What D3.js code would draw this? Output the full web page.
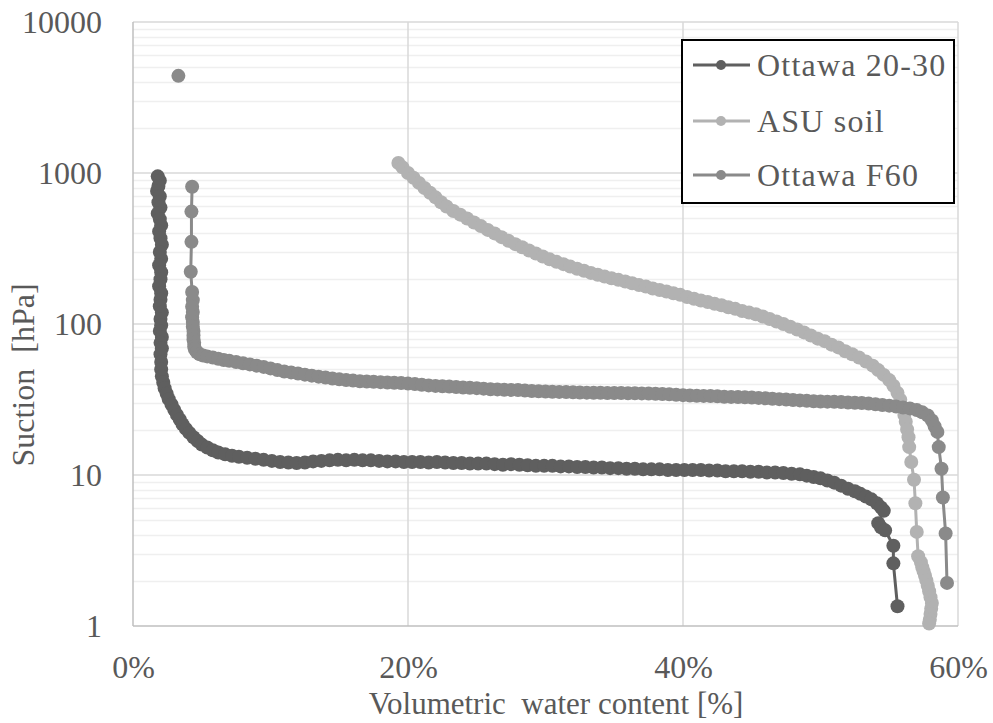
<!DOCTYPE html>
<html>
<head>
<meta charset="utf-8">
<script src="https://cdn.jsdelivr.net/npm/d3@7"></script>
<style>
  html, body { margin: 0; padding: 0; background: #ffffff; }
  svg { display: block; }
</style>
</head>
<body>
<svg id="chart" width="993" height="723"></svg>
<script>
// Water retention curves: volumetric water content [%] vs suction [hPa]
const seriesNames = ["Ottawa 20-30", "ASU soil", "Ottawa F60"];
const seriesColors = ["#5f5f5f", "#b2b2b2", "#8a8a8a"];

const ottawa2030 = [
  [1.8,950],[1.95,890],[1.85,820],[1.75,760],[1.95,700],[1.85,640],[2.0,590],[1.8,540],
  [1.95,495],[2.05,450],[1.9,410],[2.0,370],[2.1,335],[1.95,300],[2.05,270],[1.9,245],
  [2.05,220],[2.0,198],[1.9,178],[2.05,160],[2.0,145],[1.95,131],[2.1,119],[2.0,108],
  [2.05,98],[1.95,90],[2.1,82],[2.0,75],[2.1,69],[2.0,63],[2.05,56],[2.05,50],[2.1,45],
  [2.2,41],[2.3,37.5],[2.45,34.5],[2.6,31.8],[2.8,29.3],[3.0,27],[3.2,25],[3.4,23.3],
  [3.6,21.7],[3.85,20.2],[4.1,19],[4.4,17.8],[4.7,16.8],[5.0,15.9],[5.4,15.2],[5.8,14.6],
  [6.2,14.1],[6.7,13.7],[7.2,13.4],[7.7,13.2],[8.3,13.0],[8.9,12.8],[9.5,12.6],[10.1,12.4],
  [10.7,12.2],[11.3,12.1],[11.9,12.0],[12.5,12.1],[13.1,12.3],[13.7,12.4],[14.3,12.5],
  [14.9,12.6],[15.5,12.5],[16.1,12.6],[16.7,12.5],[17.3,12.5],[17.9,12.4],[18.5,12.3],
  [19.1,12.3],[19.7,12.2],[20.3,12.2],[20.9,12.2],[21.5,12.1],[22.1,12.2],[22.7,12.1],
  [23.3,12.0],[23.9,12.0],[24.5,11.9],[25.1,11.9],[25.7,11.9],[26.3,11.8],[26.9,11.7],
  [27.5,11.8],[28.1,11.7],[28.7,11.6],[29.3,11.5],[29.9,11.5],[30.5,11.5],[31.1,11.4],
  [31.7,11.4],[32.3,11.3],[32.9,11.3],[33.5,11.2],[34.1,11.2],[34.7,11.1],[35.3,11.1],
  [35.9,11.0],[36.5,11.0],[37.1,10.9],[37.7,10.9],[38.3,10.9],[38.9,10.8],[39.5,10.8],
  [40.1,10.8],[40.7,10.8],[41.3,10.8],[41.9,10.7],[42.5,10.7],[43.1,10.6],[43.7,10.6],
  [44.3,10.6],[44.9,10.5],[45.5,10.5],[46.1,10.4],[46.7,10.4],[47.3,10.3],[47.9,10.2],
  [48.5,10.1],[49.0,9.9],[49.5,9.7],[50.0,9.5],[50.5,9.2],[51.0,8.9],[51.5,8.5],
  [52.0,8.1],[52.5,7.8],[52.9,7.5],[53.3,7.2],[53.7,6.9],[54.1,6.5],[54.4,6.1],
  [54.6,5.8],[54.2,4.8],[54.4,4.5],[54.7,4.3],[55.3,3.4],[55.3,2.6],[55.6,1.35]
];

const asuSoil = [
  [19.3,1165],[19.6,1090],[20.0,1000],[20.4,930],[20.8,860],[21.2,795],[21.6,740],
  [22.0,690],[22.4,640],[22.8,600],[23.3,560],[23.8,530],[24.3,500],[24.8,470],
  [25.3,445],[25.8,420],[26.3,398],[26.8,376],[27.3,356],[27.8,338],[28.3,322],
  [28.8,307],[29.3,293],[29.8,280],[30.3,268],[30.8,258],[31.3,249],[31.8,240],
  [32.3,232],[32.8,225],[33.3,218],[33.8,212],[34.3,206],[34.8,201],[35.3,196],
  [35.8,191],[36.3,186],[36.8,181],[37.3,177],[37.8,172],[38.3,168],[38.8,164],
  [39.3,160],[39.8,156],[40.3,151],[40.8,147],[41.3,143],[41.8,140],[42.3,136],
  [42.8,133],[43.3,129],[43.8,126],[44.3,122],[44.8,119],[45.3,116],[45.8,112],
  [46.3,108],[46.8,104],[47.3,100],[47.8,96],[48.3,92],[48.8,88],[49.3,84],[49.8,80],
  [50.3,77],[50.8,73],[51.3,70],[51.8,66],[52.3,63],[52.8,60],[53.3,56.5],[53.8,53],
  [54.2,49.5],[54.6,46],[55.0,42.5],[55.3,39],[55.6,35],[55.8,31.5],[56.0,28],
  [56.1,25],[56.2,22.5],[56.3,20],[56.4,17.8],[56.45,15.3],[56.6,12.2],[56.8,9.3],
  [56.9,6.5],[57.0,4.2],[57.1,2.9],[57.3,2.65],[57.4,2.45],[57.5,2.3],[57.6,2.15],
  [57.7,2.0],[57.8,1.85],[57.9,1.7],[58.0,1.55],[58.1,1.42],[58.05,1.3],[58.0,1.2],
  [57.95,1.1],[57.9,1.04]
];

// first reading is a lone point, separated from the rest of the curve
const ottawaF60 = [
  [3.3,4400], null,
  [4.3,810],[4.25,555],[4.25,350],[4.2,222],[4.3,163],[4.35,144],[4.3,130],[4.35,120],
  [4.3,111],[4.35,103],[4.35,96],[4.4,90],[4.4,84],[4.4,79],[4.45,75],[4.45,71],
  [4.5,68],[4.65,65],[4.85,63],[5.1,61.8],[5.4,61],[5.8,60],[6.2,58.8],[6.6,57.8],
  [7.0,57],[7.5,56],[8.0,55],[8.5,54],[9.0,53],[9.5,52],[10.0,50.8],[10.5,49.5],
  [11.0,48.5],[11.5,47.8],[12.0,47],[12.5,46.2],[13.0,45.5],[13.5,44.8],[14.0,44.2],
  [14.5,43.6],[15.0,43],[15.5,42.5],[16.0,42.2],[16.5,41.8],[17.0,41.6],[17.5,41.4],
  [18.0,41.2],[18.5,41.0],[19.0,40.8],[19.5,40.6],[20.0,40.3],[20.5,40.0],[21.0,39.6],
  [21.5,39.2],[22.0,38.9],[22.5,38.7],[23.0,38.5],[23.5,38.3],[24.0,38.0],[24.5,37.8],
  [25.0,37.6],[25.5,37.3],[26.0,37.0],[26.5,36.9],[27.0,36.7],[27.5,36.6],[28.0,36.5],
  [28.5,36.3],[29.0,36.0],[29.5,35.8],[30.0,35.7],[30.5,35.6],[31.0,35.5],[31.5,35.4],
  [32.0,35.3],[32.5,35.2],[33.0,35.1],[33.5,35.0],[34.0,35.0],[34.5,34.9],[35.0,34.9],
  [35.5,34.9],[36.0,34.8],[36.5,34.8],[37.0,34.7],[37.5,34.6],[38.0,34.5],[38.5,34.4],
  [39.0,34.2],[39.5,34.0],[40.0,33.8],[40.5,33.6],[41.0,33.5],[41.5,33.4],[42.0,33.3],
  [42.5,33.2],[43.0,33.0],[43.5,32.9],[44.0,32.8],[44.5,32.7],[45.0,32.6],[45.5,32.4],
  [46.0,32.2],[46.5,32.0],[47.0,31.8],[47.5,31.6],[48.0,31.4],[48.5,31.2],[49.0,31.0],
  [49.5,30.8],[50.0,30.7],[50.5,30.6],[51.0,30.5],[51.5,30.4],[52.0,30.2],[52.5,30.1],
  [53.0,30.0],[53.5,29.7],[54.0,29.4],[54.5,29.1],[55.0,28.8],[55.5,28.4],[56.0,28.0],
  [56.5,27.6],[57.0,26.9],[57.4,26.0],[57.8,24.8],[58.1,23.0],[58.3,21.0],[58.5,19.3],
  [58.6,15.3],[58.8,11.0],[58.9,7.1],[59.1,4.1],[59.2,1.93]
];

const xTicks = [0, 20, 40, 60];
const yTicks = [1, 10, 100, 1000, 10000];

const allSeries = [ottawa2030, asuSoil, ottawaF60];

const FONT = "Liberation Serif";
const TEXT_COLOR = "#595959";

const svg = d3.select("#chart");
const plot = { left: 133, right: 958, top: 22, bottom: 626 };

svg.append("rect").attr("width", 993).attr("height", 723).attr("fill", "#ffffff");

const x = d3.scaleLinear().domain([0, 60]).range([plot.left, plot.right]);
const y = d3.scaleLog().domain([1, 10000]).range([plot.bottom, plot.top]);

// minor horizontal gridlines (2..9 within each decade)
const minorTicks = [];
for (let d = 1; d < 10000; d *= 10) {
  for (let m = 2; m <= 9; m++) minorTicks.push(d * m);
}
const grid = svg.append("g");
grid.selectAll("line.minor").data(minorTicks).join("line")
  .attr("class", "minor")
  .attr("x1", plot.left).attr("x2", plot.right)
  .attr("y1", d => Math.round(y(d)) + 0.5).attr("y2", d => Math.round(y(d)) + 0.5)
  .attr("stroke", "#efefef").attr("stroke-width", 1.5);

grid.selectAll("line.major").data(yTicks.slice(1)).join("line")
  .attr("class", "major")
  .attr("x1", plot.left).attr("x2", plot.right)
  .attr("y1", d => y(d)).attr("y2", d => y(d))
  .attr("stroke", "#d9d9d9").attr("stroke-width", 1.5);

grid.selectAll("line.vert").data(xTicks.slice(1)).join("line")
  .attr("class", "vert")
  .attr("x1", d => x(d)).attr("x2", d => x(d))
  .attr("y1", plot.top).attr("y2", plot.bottom)
  .attr("stroke", "#d9d9d9").attr("stroke-width", 1.5);

// axis lines
svg.append("line")
  .attr("x1", plot.left).attr("x2", plot.left)
  .attr("y1", plot.top).attr("y2", plot.bottom)
  .attr("stroke", "#bfbfbf").attr("stroke-width", 1.5);
svg.append("line")
  .attr("x1", plot.left).attr("x2", plot.right)
  .attr("y1", plot.bottom).attr("y2", plot.bottom)
  .attr("stroke", "#bfbfbf").attr("stroke-width", 1.5);

// tick labels via d3 axes, with axis domain and ticks hidden
const yAxis = d3.axisLeft(y).tickValues(yTicks).tickFormat(d3.format("d")).tickSize(0).tickPadding(31);
const yg = svg.append("g").attr("transform", `translate(${plot.left},0)`).call(yAxis)
  .attr("font-family", FONT).attr("font-size", 32);
yg.select(".domain").remove();
yg.selectAll("text").attr("fill", TEXT_COLOR).attr("font-family", FONT).attr("font-size", 32);

const xAxis = d3.axisBottom(x).tickValues(xTicks).tickFormat(d => d + "%").tickSize(0).tickPadding(29);
const xg = svg.append("g").attr("transform", `translate(0,${plot.bottom})`).call(xAxis)
  .attr("font-family", FONT).attr("font-size", 32);
xg.select(".domain").remove();
xg.selectAll("text").attr("fill", TEXT_COLOR).attr("font-family", FONT).attr("font-size", 32);

// axis titles
svg.append("text")
  .attr("x", 556).attr("y", 714)
  .attr("text-anchor", "middle")
  .attr("font-family", FONT).attr("font-size", 31).attr("fill", TEXT_COLOR)
  .attr("xml:space", "preserve")
  .text("Volumetric  water content [%]");

svg.append("text")
  .attr("transform", "translate(34,375) rotate(-90)")
  .attr("text-anchor", "middle")
  .attr("font-family", FONT).attr("font-size", 32).attr("fill", TEXT_COLOR)
  .attr("xml:space", "preserve")
  .text("Suction  [hPa]");

// series: connecting line then markers
const line = d3.line()
  .defined(d => d !== null)
  .x(d => x(d[0])).y(d => y(d[1]));

allSeries.forEach((data, i) => {
  const g = svg.append("g");
  g.append("path")
    .datum(data)
    .attr("d", line)
    .attr("fill", "none")
    .attr("stroke", seriesColors[i])
    .attr("stroke-width", 3);
  g.selectAll("circle").data(data.filter(d => d !== null)).join("circle")
    .attr("cx", d => x(d[0])).attr("cy", d => y(d[1]))
    .attr("r", 7)
    .attr("fill", seriesColors[i]);
});

// legend
const legend = svg.append("g");
legend.append("rect")
  .attr("x", 682).attr("y", 40).attr("width", 272).attr("height", 163)
  .attr("fill", "#ffffff").attr("stroke", "#000000").attr("stroke-width", 2);
const legendRows = [65, 121, 175];
seriesNames.forEach((name, i) => {
  const ly = legendRows[i];
  legend.append("line")
    .attr("x1", 693).attr("x2", 750).attr("y1", ly).attr("y2", ly)
    .attr("stroke", seriesColors[i]).attr("stroke-width", 3);
  legend.append("circle")
    .attr("cx", 721).attr("cy", ly).attr("r", 5)
    .attr("fill", seriesColors[i]);
  legend.append("text")
    .attr("x", 757).attr("y", ly + 11)
    .attr("font-family", FONT).attr("font-size", 32).attr("fill", TEXT_COLOR)
    .attr("letter-spacing", 1.2)
    .text(name);
});
</script>
</body>
</html>
